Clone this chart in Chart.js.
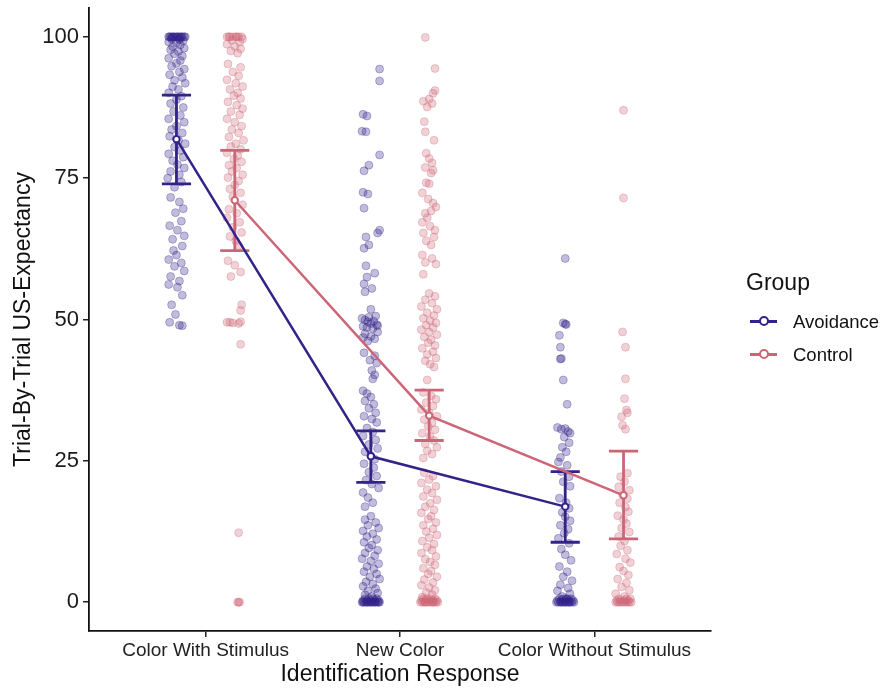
<!DOCTYPE html>
<html>
<head>
<meta charset="utf-8">
<script src="https://cdn.jsdelivr.net/npm/chart.js@4.4.1/dist/chart.umd.min.js"></script>
<style>
  body { margin: 0; background: #fff; font-family: "Liberation Sans", Arial, sans-serif; }
  #wrap { position: relative; width: 880px; height: 688px; }
  #legend { position: absolute; left: 746px; top: 269px; color: #111; }
  #legend .title { font-size: 23px; margin-bottom: 9px; }
  #legend .item { display: flex; align-items: center; height: 33px; font-size: 18.5px; }
  #legend .key { position: relative; width: 27px; height: 3px; margin: 0 16px 0 4px; }
  #legend .key i { position: absolute; left: 9px; top: -4px; width: 6px; height: 6px;
                   border-radius: 50%; background: #fff; border: 2px solid currentColor; }
</style>
</head>
<body>
<div id="wrap">
  <canvas id="chart" width="880" height="688"></canvas>
  <div id="legend">
    <div class="title">Group</div>
    <div class="item"><span class="key" style="background:#332288;color:#332288"><i></i></span>Avoidance</div>
    <div class="item"><span class="key" style="background:#CC6677;color:#CC6677"><i></i></span>Control</div>
  </div>
</div>
<script>
/* Categories and groups */
const categories = ["Color With Stimulus", "New Color", "Color Without Stimulus"];
const groups = ["Avoidance", "Control"];

/* Group means and error bar limits, one value per category */
const avoidMean = [81.9, 25.8, 16.9];
const avoidLow  = [74.0, 21.2, 10.6];
const avoidHigh = [89.7, 30.3, 23.1];
const ctrlMean  = [71.1, 33.0, 18.9];
const ctrlLow   = [62.2, 28.6, 11.2];
const ctrlHigh  = [79.9, 37.5, 26.7];

/* Trial-by-trial responses: [jitter, value] */
const avoidCWS = [[-0.04,100],[-0.03,100],[-0.02,100],[-0.01,100],[0,100],[0.01,100],[0.02,100],[0.03,100],[0.04,100],[-0.035,100],[-0.015,100],[0.005,100],[0.025,100],[0.045,100],[-0.025,99.8],[0.015,99.7],
  [-0.025,99.6],[0.015,99.5],[0.035,99.3],[-0.04,99.1],[0,98.9],[0.02,98.6],[-0.02,98.3],[0.04,98],[-0.03,97.7],[0.01,97.4],[-0.01,97],[0.03,96.6],[-0.04,96.2],[0.02,95.8],[0,95.3],
  [-0.025,94.8],[0.04,94.3],[0.015,93.8],[-0.035,93.3],[0.03,92.8],[-0.01,92.3],[0.045,91.8],[-0.02,91.2],[0.01,90.7],[-0.04,90.1],[0.025,89.5],[0.0,88.9],[-0.03,88.2],[0.035,87.5],
  [-0.015,86.8],[0.02,86.1],[-0.04,85.5],[0.04,84.9],[0.0,84.2],[-0.025,83.6],[0.03,83],[-0.035,82.4],[0.01,81.7],[0.045,81.1],[-0.01,80.5],[0.02,79.9],[-0.04,79.3],[0.035,78.7],
  [-0.02,78.1],[0.005,77.4],[0.04,76.8],[-0.03,76.2],[0.015,75.6],[-0.045,75],[0.025,74.3],[-0.01,73.4],[-0.03,71.6],[0.015,70.8],[0.035,69.6],[-0.005,68.9],[0.025,67.4],[-0.035,66.6],
  [0.005,65.8],[0.04,64.8],[-0.02,64.2],[0.03,63],[-0.015,62.2],[0.0,61.4],[-0.04,60.6],[0.025,60],[-0.01,59.4],[0.04,58.6],[-0.03,57.6],[0.015,56.8],[-0.04,56.2],[0.005,55.7],
  [0.03,54.3],[-0.025,52.6],[-0.005,50.9],[-0.035,49.5],[0.015,49],[0.03,48.9]];

const ctrlCWS = [[-0.04,100],[-0.025,100],[-0.01,100],[0.005,100],[0.02,100],[0.035,100],[-0.03,100],[0.01,100],[0.04,99.6],[-0.015,99.4],[0.025,99.1],[-0.04,98.7],[0.0,98.3],[0.03,97.9],
  [-0.02,97.5],[0.015,97.1],[-0.035,95.2],[0.03,94.6],[-0.01,93.8],[0.02,93.1],[-0.04,92.4],[0.005,91.8],[0.04,91.2],[-0.025,90.7],[0.015,90.1],[-0.005,89.6],[0.03,89.1],[-0.035,88.5],
  [0.01,87.9],[0.04,87.3],[-0.02,86.8],[0.025,86.2],[-0.04,85.5],[0.0,84.9],[0.035,84.2],[-0.015,83.6],[0.02,83],[-0.03,82.3],[0.045,81.7],[0.005,81.1],[-0.02,80.6],[0.03,80.1],
  [-0.04,79.5],[0.015,79],[-0.005,78.4],[0.035,77.9],[-0.03,77.3],[0.01,76.8],[-0.015,76.2],[0.04,75.6],[-0.035,75.1],[0.02,74.5],[0.0,73.8],[-0.025,73.1],[0.03,72.4],[-0.01,71.7],
  [0.04,70.3],[-0.03,69.5],[0.01,68.8],[-0.04,68],[0.025,67.2],[-0.01,66.3],[0.035,65.4],[-0.025,64.7],[0.005,63.9],[0.02,63.1],[-0.035,60.4],[0.0,59.6],[0.03,58.4],[-0.02,57.6],
  [0.035,52.6],[0.03,51.6],[-0.04,49.5],[-0.025,49.5],[-0.01,49.4],[0.02,49.3],[0.03,49.6],[0.03,45.6],[0.02,12.3],[0.015,0],[0.02,0],[0.025,0]];

const avoidNC = [[0.045,94.3],[0.045,92.2],[-0.04,86.3],[-0.02,86.0],[-0.045,83.3],[-0.025,83.2],[0.045,79.1],[-0.01,77.3],[-0.035,76.3],[-0.04,72.5],[-0.015,72.2],[-0.035,69.7],
  [0.045,65.8],[0.035,65.3],[-0.025,64.6],[-0.01,63.2],[-0.035,62.6],[-0.025,59.5],[0.02,58.2],[-0.02,57.5],[-0.035,56.3],[0.005,55.5],[-0.03,54.9],[0.0,51.8],[-0.045,50.2],
  [-0.03,49.9],[-0.015,49.6],[0.0,49.3],[0.015,49.7],[0.03,49.1],[-0.04,48.8],[-0.02,48.6],[0.01,48.4],[0.035,48.9],[-0.01,50.4],[0.025,50.6],
  [-0.03,47.5],[0.0,47],[0.02,46.6],[-0.015,46.2],[0.035,47.8],[-0.04,46.8],[-0.035,44.1],[0.02,43.6],[-0.005,42.8],[0.03,42.3],[0.005,41],[0.02,40.2],[0.01,39.5],
  [-0.04,37.4],[-0.02,36.9],[0.0,36.3],[-0.03,35.6],[0.015,35],[-0.01,34.3],[0.025,33.5],[-0.035,32.9],[0.005,32.4],[0.03,31.8],
  [-0.02,30.8],[0.01,30.1],[-0.04,29.4],[0.025,28.7],[-0.01,27.9],[0.035,27.2],[-0.03,26.6],[0.0,25.9],[0.02,25.3],
  [-0.035,24.5],[0.015,23.8],[-0.01,23],[0.03,22.3],[-0.025,21.6],[0.005,20.9],[0.04,20.2],[-0.04,19.4],[-0.015,18.5],[0.01,17.6],[-0.03,16.9],
  [0.0,15.2],[-0.03,14.6],[0.025,14.1],[-0.015,13.6],[0.04,13.1],[-0.04,12.6],[0.01,12.1],[-0.02,11.6],[0.03,11.1],[-0.035,10.6],[0.005,10.1],[-0.01,9.6],[0.035,9.2],
  [-0.03,8.7],[0.02,8.2],[-0.045,7.7],[0.0,7.3],[0.04,6.8],[-0.02,6.3],[0.015,5.9],[-0.035,5.4],[0.03,5],[-0.005,4.5],[0.045,4.1],[-0.025,3.6],[0.01,3.2],[-0.04,2.8],
  [0.025,2.4],[-0.015,2],[0.035,1.6],[-0.03,1.3],[0.005,1],
  [-0.045,0],[-0.035,0],[-0.025,0],[-0.015,0],[-0.005,0],[0.005,0],[0.015,0],[0.025,0],[0.035,0],[0.045,0],[-0.04,0.3],[-0.02,0.3],[0,0.3],[0.02,0.3],[0.04,0.3],
  [-0.03,0.6],[-0.01,0.6],[0.01,0.6],[0.03,0.6],[-0.04,0],[-0.02,0],[0,0],[0.02,0],[0.04,0]];

const ctrlNC = [[-0.02,99.9],[0.03,94.4],[0.03,90.5],[0.02,90],[0.0,89],[-0.03,88.6],[0.015,88.2],[-0.01,87.6],[-0.025,85],[-0.02,83.2],[0.025,81.7],[-0.015,79.4],[0.0,78.5],
  [0.015,77.7],[-0.02,76.9],[0.02,76.4],[0.01,75.9],[-0.015,74.2],[0.0,74],[-0.035,72.4],[-0.005,71.3],[0.02,70.6],[0.035,69.9],[0.01,69.2],[-0.02,68.8],[-0.01,68],[-0.035,67.2],
  [0.005,66.5],[0.03,65.8],[-0.03,65.3],[0.025,64.6],[-0.015,63.9],[0.01,63.2],[-0.035,61.4],[0.015,60.8],[-0.02,60.1],[0.035,59.8],[-0.03,58],[0.0,54.6],[0.03,54.1],[-0.02,53.5],
  [0.015,52.9],[-0.04,52.3],[0.04,51.8],[-0.01,51.2],[0.025,50.7],[-0.03,50.2],[0.005,49.8],[0.035,49.4],[-0.015,49],[0.02,48.6],[-0.04,48.2],[0.0,47.8],[0.04,47.3],[-0.025,46.9],
  [0.01,46.4],[-0.005,45.9],[0.03,45.4],[-0.035,44.9],[0.02,44.3],[-0.01,43.8],[0.035,43.2],[-0.02,42.7],[0.005,42.1],[0.025,41.6],[-0.01,39.3],
  [-0.03,37.1],[0.01,36.5],[0.035,35.9],[-0.015,35.3],[0.02,34.7],[-0.04,34.1],[0.0,33.5],[0.04,32.9],[-0.025,32.3],[0.015,31.7],[-0.005,31.1],[0.03,30.5],[-0.035,29.9],
  [0.005,29.3],[0.025,28.6],[-0.02,28],[0.04,27.4],[-0.01,26.8],[0.015,26.2],[-0.03,25.5],
  [-0.025,22.9],[0.02,22.3],[0.0,21.7],[-0.04,21.1],[0.035,20.5],[-0.01,19.9],[0.015,19.3],[-0.03,18.7],[0.04,18.1],[0.005,17.5],[-0.02,16.9],[0.025,16.3],[-0.04,15.8],
  [0.01,15.2],[-0.005,14.7],[0.035,14.1],[-0.03,13.6],[0.02,13],[-0.015,12.5],[0.04,11.9],[0.0,11.4],[-0.035,10.8],[0.025,10.3],[-0.01,9.7],[0.015,9.2],[-0.04,8.7],
  [0.035,8.1],[-0.02,7.6],[0.005,7.1],[0.03,6.6],[-0.03,6],[0.01,5.5],[-0.005,5],[0.04,4.5],[-0.025,4],[0.02,3.5],[-0.04,3],[0.0,2.6],[0.03,2.1],[-0.015,1.7],[0.015,1.3],[-0.035,0.9],
  [-0.045,0],[-0.035,0],[-0.025,0],[-0.015,0],[-0.005,0],[0.005,0],[0.015,0],[0.025,0],[0.035,0],[0.045,0],[-0.04,0.3],[-0.02,0.3],[0,0.3],[0.02,0.3],[0.04,0.3],
  [-0.03,0.6],[-0.01,0.6],[0.01,0.6],[0.03,0.6],[-0.02,0],[0.02,0]];

const avoidCWoS = [[0.0,60.8],[-0.01,49.4],[0.0,49.2],[0.005,49.1],[-0.03,47.2],[-0.025,45.1],[-0.02,43.1],[-0.025,43.0],[-0.01,39.3],[0.01,35],[-0.04,30.9],[-0.02,30.6],
  [0.0,30.7],[0.015,30.2],[0.025,29.9],[-0.005,29.2],[0.02,28.2],[-0.015,27.4],[0.005,26.6],[-0.025,25.6],[-0.035,24.8],[0.01,24.2],[-0.02,23.1],[0.02,22.2],[-0.01,21.3],
  [0.025,20.5],[-0.03,18.4],[0.005,17.6],[0.02,16.6],[-0.015,15.9],[0.0,15.1],[0.025,14.4],[-0.025,13.6],[0.015,12.9],[-0.005,12.2],[-0.035,11.3],[0.02,10.4],[-0.02,9.4],
  [0.0,8.4],[0.03,7.4],[-0.03,6.3],[0.01,5.4],[-0.01,4.5],[0.035,3.8],[-0.025,3.1],[0.015,2.5],[-0.04,2],[0.025,1.5],[-0.015,1],[0.005,0.6],
  [-0.045,0],[-0.035,0],[-0.025,0],[-0.015,0],[-0.005,0],[0.005,0],[0.015,0],[0.025,0],[0.035,0],[0.045,0],[-0.04,0.3],[-0.02,0.3],[0,0.3],[0.02,0.3],[0.04,0.3],
  [-0.03,0.6],[-0.01,0.6],[0.01,0.6],[0.03,0.6],[-0.02,0],[0,0],[0.02,0]];

const ctrlCWoS = [[0.0,87],[0.0,71.5],[-0.005,47.8],[0.01,45.1],[0.01,39.5],[0.005,36],[0.015,34],[0.02,33.5],[-0.01,32.8],[-0.005,31.3],[0.01,30.6],[0.02,22.8],[-0.015,22.2],
  [0.005,21.3],[-0.025,20.4],[0.03,19.8],[-0.005,19],[0.02,18.3],[-0.02,17.6],[0.01,16.8],[0.025,16],[-0.03,15.3],[0.0,14.6],[0.015,13.9],[-0.01,13.1],[0.03,12.4],[-0.025,11.6],
  [0.005,10.8],[-0.015,10],[0.02,9.2],[-0.035,8.5],[0.01,7.7],[0.035,7],[-0.02,6.2],[0.0,5.5],[0.025,4.8],[-0.03,4.1],[0.015,3.4],[-0.01,2.7],[0.03,2.1],[-0.04,1.5],[0.005,1],
  [-0.04,0],[-0.03,0],[-0.02,0],[-0.01,0],[0,0],[0.01,0],[0.02,0],[0.03,0],[0.04,0],[-0.035,0.3],[-0.015,0.3],[0.005,0.3],[0.025,0.3],[-0.025,0.6],[0.015,0.6],[0.035,0.6]];

const tickValues = [0, 25, 50, 75, 100];

/* Styling */
const avoidColor = "#332288";
const ctrlColor = "#CC6677";
const dodge = 0.15;
const capHalf = 0.075;

function jitter(pairs, pos) {
  return pairs.map(p => ({ x: pos + p[0], y: p[1] }));
}

function errorBars(low, high, offset) {
  const out = [];
  low.forEach((lo, i) => {
    const x = i + 1 + offset;
    out.push({x: x - capHalf, y: lo}, {x: x + capHalf, y: lo}, {x: x, y: null});
    out.push({x: x, y: lo}, {x: x, y: high[i]}, {x: x, y: null});
    out.push({x: x - capHalf, y: high[i]}, {x: x + capHalf, y: high[i]}, {x: x, y: null});
  });
  return out;
}

function meanLine(means, offset) {
  return means.map((m, i) => ({ x: i + 1 + offset, y: m }));
}

function pointSet(label, data, color) {
  return {
    type: "scatter", label: label, data: data, order: 3,
    pointRadius: 4, pointHoverRadius: 4, pointBorderWidth: 1,
    backgroundColor: color + "4D", borderColor: color + "4D"
  };
}

const datasets = [
  pointSet(groups[0], jitter(avoidCWS, 1 - dodge).concat(jitter(avoidNC, 2 - dodge), jitter(avoidCWoS, 3 - dodge)), avoidColor),
  pointSet(groups[1], jitter(ctrlCWS, 1 + dodge).concat(jitter(ctrlNC, 2 + dodge), jitter(ctrlCWoS, 3 + dodge)), ctrlColor),
  { type: "line", label: "avoid-err", data: errorBars(avoidLow, avoidHigh, -dodge), order: 2,
    borderColor: avoidColor, borderWidth: 2.8, pointRadius: 0, spanGaps: false },
  { type: "line", label: "ctrl-err", data: errorBars(ctrlLow, ctrlHigh, dodge), order: 2,
    borderColor: ctrlColor, borderWidth: 2.8, pointRadius: 0, spanGaps: false },
  { type: "line", label: "avoid-mean", data: meanLine(avoidMean, -dodge), order: 1,
    borderColor: avoidColor, borderWidth: 2.5, pointRadius: 3.2, pointBorderWidth: 2,
    pointBackgroundColor: "#fff", pointBorderColor: avoidColor },
  { type: "line", label: "ctrl-mean", data: meanLine(ctrlMean, dodge), order: 1,
    borderColor: ctrlColor, borderWidth: 2.5, pointRadius: 3.2, pointBorderWidth: 2,
    pointBackgroundColor: "#fff", pointBorderColor: ctrlColor }
];

const font = "'Liberation Sans', Arial, sans-serif";

new Chart(document.getElementById("chart"), {
  type: "scatter",
  data: { datasets: datasets },
  options: {
    responsive: false,
    animation: false,
    layout: { padding: { top: 8, right: 169, left: 0, bottom: 0 } },
    plugins: { legend: { display: false }, tooltip: { enabled: false } },
    scales: {
      x: {
        type: "linear", min: 0.4, max: 3.6,
        afterBuildTicks: s => { s.ticks = [1, 2, 3].map(v => ({ value: v })); },
        afterFit: s => { s.height = 57; s.paddingLeft = 0; s.paddingRight = 0; },
        ticks: { callback: v => categories[v - 1], color: "#222", font: { family: font, size: 19 }, padding: 2, maxRotation: 0, autoSkip: false },
        grid: { display: true, drawOnChartArea: false, drawTicks: true, tickLength: 6, color: "#222", lineWidth: 1.5 },
        border: { display: true, color: "#111", width: 1.8 },
        title: { display: true, text: "Identification Response", color: "#111", font: { family: font, size: 23 }, padding: { top: 0, bottom: 0 } }
      },
      y: {
        min: -5.1, max: 105.1,
        afterBuildTicks: s => { s.ticks = tickValues.map(v => ({ value: v })); },
        afterFit: s => { s.width = 89; s.paddingTop = 0; s.paddingBottom = 0; },
        ticks: { color: "#1a1a1a", font: { family: font, size: 22 }, padding: 4 },
        grid: { display: true, drawOnChartArea: false, drawTicks: true, tickLength: 6, color: "#222", lineWidth: 1.5 },
        border: { display: true, color: "#111", width: 1.8 },
        title: { display: true, text: "Trial-By-Trial US-Expectancy", color: "#111", font: { family: font, size: 23 }, padding: { top: 10, bottom: 0 } }
      }
    }
  }
});
</script>
</body>
</html>
